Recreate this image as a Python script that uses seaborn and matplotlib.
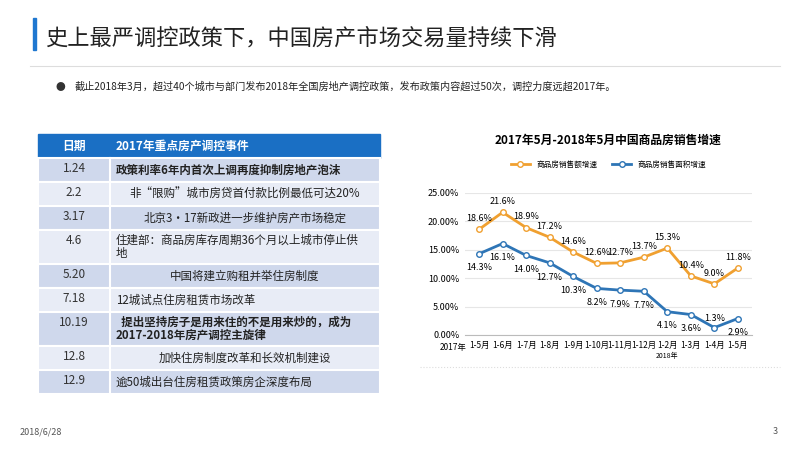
import matplotlib
matplotlib.use("Agg")
import matplotlib.pyplot as plt
import seaborn as sns
import pandas as pd
from matplotlib.patches import Rectangle

plt.rcParams["font.family"] = "Noto Sans CJK SC"

# chart data
periods = ["1-5月", "1-6月", "1-7月", "1-8月", "1-9月", "1-10月", "1-11月",
           "1-12月", "1-2月", "1-3月", "1-4月", "1-5月"]
sales_amount = [18.6, 21.6, 18.9, 17.2, 14.6, 12.6, 12.7, 13.7, 15.3, 10.4, 9.0, 11.8]
sales_area = [14.3, 16.1, 14.0, 12.7, 10.3, 8.2, 7.9, 7.7, 4.1, 3.6, 1.3, 2.9]
series_names = ["商品房销售额增速", "商品房销售面积增速"]

# table data
dates = ["1.24", "2.2", "3.17", "4.6", "5.20", "7.18", "10.19", "12.8", "12.9"]
events = ["政策利率6年内首次上调再度抑制房地产泡沫",
          "非“限购”城市房贷首付款比例最低可达20%",
          "北京3·17新政进一步维护房产市场稳定",
          "住建部：商品房库存周期36个月以上城市停止供\n地",
          "中国将建立购租并举住房制度",
          "12城试点住房租赁市场改革",
          "  提出坚持房子是用来住的不是用来炒的，成为\n2017-2018年房产调控主旋律",
          "加快住房制度改革和长效机制建设",
          "逾50城出台住房租赁政策房企深度布局"]
bold_rows = [0, 6]
centered_rows = [1, 2, 4, 7]

fig = plt.figure(figsize=(8, 4.5), dpi=100)
W, H = 800, 450

def fx(x): return x / W
def fy(y): return 1 - y / H

# header
fig.add_artist(Rectangle((fx(33), fy(50)), fx(3), 0.07, color="#1f77d0", transform=fig.transFigure))
fig.text(fx(45), fy(38), "史上最严调控政策下，中国房产市场交易量持续下滑", fontsize=16, va="center", color="#222222")
fig.add_artist(plt.Line2D([fx(30), fx(780)], [fy(66), fy(66)], color="#dddddd", lw=0.8, transform=fig.transFigure))
fig.text(fx(55), fy(87), "●", fontsize=7, va="center", color="#333333")
fig.text(fx(75), fy(87), "截止2018年3月，超过40个城市与部门发布2018年全国房地产调控政策，发布政策内容超过50次，调控力度远超2017年。",
         fontsize=7.3, va="center", color="#222222")

# table
x0, x1, xs = 38, 380, 110
heights = [24, 24, 24, 34, 24, 24, 34, 24, 24]
fig.add_artist(Rectangle((fx(x0), fy(158)), fx(x1 - x0), fy(134) - fy(158), color="#1a6fc4", transform=fig.transFigure))
fig.text(fx((x0 + xs) / 2), fy(146), "日期", color="white", fontsize=8.5, weight="bold", ha="center", va="center")
fig.text(fx(xs + 6), fy(146), "2017年重点房产调控事件", color="white", fontsize=8.5, weight="bold", va="center")
y = 158
for i, (d, e) in enumerate(zip(dates, events)):
    h = heights[i]
    col = "#cfd8ec" if i % 2 == 0 else "#e8ecf6"
    fig.add_artist(Rectangle((fx(x0), fy(y + h)), fx(x1 - x0), fy(y) - fy(y + h), facecolor=col,
                             edgecolor="white", lw=1.5, transform=fig.transFigure))
    fig.add_artist(plt.Line2D([fx(xs), fx(xs)], [fy(y), fy(y + h)], color="white", lw=1.5, transform=fig.transFigure))
    fig.text(fx((x0 + xs) / 2), fy(y + 11), d, fontsize=8.5, ha="center", va="center", color="#333333")
    if i in centered_rows:
        fig.text(fx((xs + x1) / 2), fy(y + h / 2), e, fontsize=8.3, va="center", ha="center", color="#222222")
    else:
        fig.text(fx(xs + 6), fy(y + h / 2), e, fontsize=8.3, va="center", color="#222222",
                 weight="bold" if i in bold_rows else "normal", linespacing=1.0)
    y += h

# chart
fig.text(fx(608), fy(140), "2017年5月-2018年5月中国商品房销售增速", fontsize=8.5, weight="bold", ha="center", va="center")
ax = fig.add_axes([fx(465), fy(335), fx(752 - 465), fy(193) - fy(335)])
colors = ["#f0a030", "#2e75b6"]
for name, vals, c in zip(series_names, [sales_amount, sales_area], colors):
    d = pd.DataFrame({"period": range(len(periods)), "value": vals})
    sns.lineplot(data=d, x="period", y="value", color=c, marker="o", markersize=4,
                 markerfacecolor="white", markeredgecolor=c, markeredgewidth=1, lw=2, label=name, ax=ax)
ax.set_ylim(0, 25)
ax.set_xlim(-0.6, len(periods) - 0.4)
ax.set_yticks([0, 5, 10, 15, 20, 25])
ax.set_yticklabels([f"{v:.2f}%" for v in [0, 5, 10, 15, 20, 25]], fontsize=6.5)
ax.set_xticks(range(len(periods)))
ax.set_xticklabels(periods, fontsize=6)
ax.tick_params(length=0, pad=4)
ax.set_xlabel("")
ax.set_ylabel("")
ax.grid(axis="y", color="#e6e6e6", lw=0.8)
for s in ["top", "right", "left"]:
    ax.spines[s].set_visible(False)
ax.spines["bottom"].set_color("#bbbbbb")
ax.text(-0.55, -1.4, "2017年", fontsize=6, ha="right", va="top")
ax.text(8, -3.7, "2018年", fontsize=5, ha="center", va="center")
for i, v in enumerate(sales_amount):
    ax.annotate(f"{v:.1f}%", (i, v), xytext=(0, 6), textcoords="offset points", ha="center", fontsize=6.5)
for i, v in enumerate(sales_area):
    off = 5 if i == 10 else -12
    ax.annotate(f"{v:.1f}%", (i, v), xytext=(0, off), textcoords="offset points", ha="center", fontsize=6.5)
ax.legend(loc="lower center", bbox_to_anchor=(0.5, 1.12), ncol=2, frameon=False, fontsize=5.5,
          handlelength=2.5, columnspacing=2)
fig.add_artist(plt.Line2D([fx(420), fx(780)], [fy(367), fy(367)], color="#dddddd", lw=0.8, ls=":", transform=fig.transFigure))

fig.text(fx(20), fy(432), "2018/6/28", fontsize=6.5, color="#555555", va="center")
fig.text(fx(778), fy(432), "3", fontsize=6.5, color="#555555", va="center", ha="right")

fig.savefig("out.png", dpi=100)
